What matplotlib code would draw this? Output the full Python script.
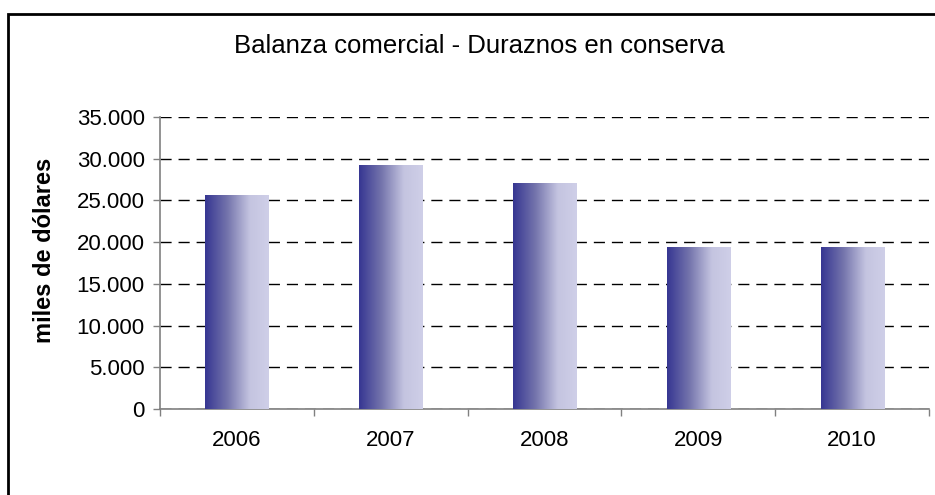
import matplotlib
matplotlib.use("Agg")
import matplotlib.pyplot as plt
import numpy as np
from matplotlib.colors import LinearSegmentedColormap
from matplotlib.patches import Rectangle
from matplotlib.ticker import FuncFormatter, FixedLocator

years = ["2006", "2007", "2008", "2009", "2010"]
values = [25600, 29200, 27000, 19300, 19300]
y_ticks = [0, 5000, 10000, 15000, 20000, 25000, 30000, 35000]
title = "Balanza comercial - Duraznos en conserva"
ylabel = "miles de dólares"

plt.rcParams['font.family'] = ['Liberation Sans', 'DejaVu Sans']

W, H = 935, 495
fig = plt.figure(figsize=(W / 100, H / 100), dpi=100)
ax = fig.add_axes([160 / W, 1 - 409 / H, (929 - 160) / W, (409 - 117) / H])

x = np.arange(len(years))
bars = ax.bar(x, values, width=0.41, color='none', edgecolor='none', zorder=3)

cmap = LinearSegmentedColormap.from_list(
    "grad", [(0.0, "#363692"), (0.35, "#7474ac"), (0.7, "#c4c4e0"), (1.0, "#cfcfe8")])
grad = np.linspace(0, 1, 256).reshape(1, -1)
for b in bars:
    x0, w, h = b.get_x(), b.get_width(), b.get_height()
    ax.imshow(grad, cmap=cmap, aspect='auto', extent=(x0, x0 + w, 0, h),
              zorder=3, interpolation='bilinear')

ax.set_xlim(-0.5, len(years) - 0.5)
ax.set_ylim(0, 35000)
ax.set_yticks(y_ticks)
ax.yaxis.set_major_formatter(FuncFormatter(lambda v, p: f"{int(v):,}".replace(",", ".")))
ax.yaxis.grid(True, linestyle=(0, (8, 5)), color='black', linewidth=1, zorder=1)
ax.set_axisbelow(True)

ax.set_xticks(x)
ax.set_xticklabels(years)
ax.tick_params(axis='x', which='major', length=0, pad=15, labelsize=16)
ax.xaxis.set_minor_locator(FixedLocator(np.arange(-0.5, len(years), 1.0)))
ax.tick_params(axis='x', which='minor', length=5, color='#808080', width=1)
ax.tick_params(axis='y', length=5, color='#808080', width=1, labelsize=16, pad=6)

for s in ['top', 'right']:
    ax.spines[s].set_visible(False)
for s in ['left', 'bottom']:
    ax.spines[s].set_color('#808080')
    ax.spines[s].set_linewidth(1.2)

fig.text(45 / W, 1 - 250 / H, ylabel, rotation=90, fontsize=17, fontweight='bold',
         ha='center', va='center')

fig.text(479 / W, 1 - 46 / H, title, fontsize=18.5, ha='center', va='center')

border = Rectangle((7.5 / W, -0.2), 1.5, 1.2 - 13.5 / H, transform=fig.transFigure,
                   fill=False, edgecolor='black', linewidth=2, clip_on=False)
fig.patches.append(border)

fig.savefig("out.png", dpi=100)
